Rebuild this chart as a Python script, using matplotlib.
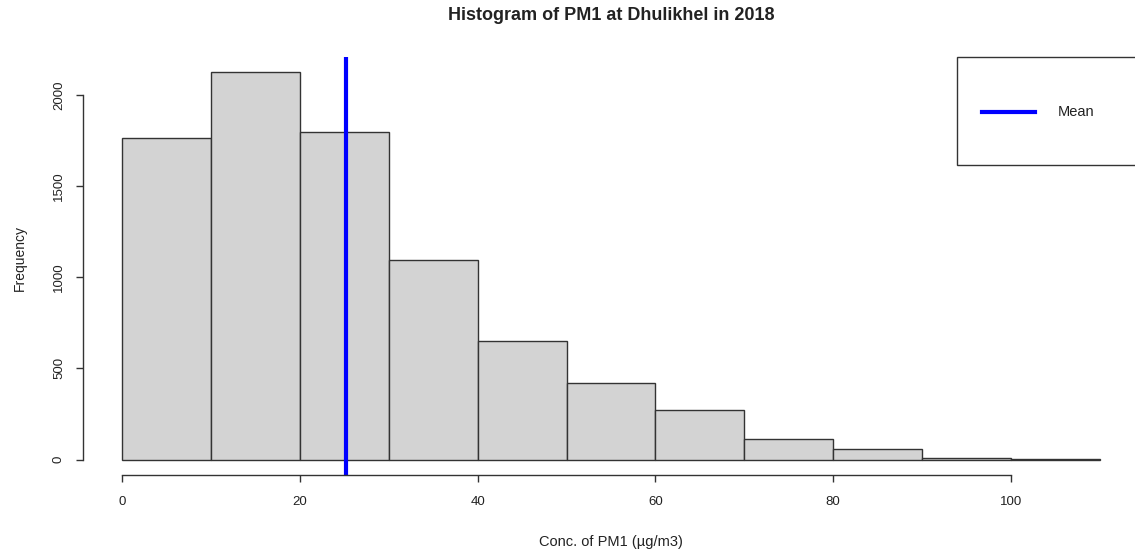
import matplotlib
matplotlib.use("Agg")
import matplotlib.pyplot as plt
from matplotlib.patches import Rectangle

# PM1 histogram, Dhulikhel 2018 (counts)
bin_edges = [0, 10, 20, 30, 40, 50, 60, 70, 80, 90, 100, 110]
counts = [1764, 2124, 1800, 1095, 652, 418, 272, 111, 55, 11, 2]
mean_pm1 = 25.2
x_ticks = [0, 20, 40, 60, 80, 100]
y_ticks = [0, 500, 1000, 1500, 2000]

plt.rcParams['font.family'] = ['Liberation Sans', 'DejaVu Sans']
txt = '#222222'
edge = '#333333'

fig = plt.figure(figsize=(11.35, 5.5), dpi=100)
ax = fig.add_axes([83 / 1135, 1 - 475 / 550, 1056 / 1135, 418 / 550])

ax.bar(bin_edges[:-1], counts, width=10, align='edge',
       color='#d3d3d3', edgecolor=edge, linewidth=1)
ax.axvline(mean_pm1, color='blue', linewidth=3)

ax.set_xlim(-4.4, 114.4)
ax.set_ylim(-85, 2209)

for s in ['top', 'right']:
    ax.spines[s].set_visible(False)
ax.spines['left'].set_bounds(0, 2000)
ax.spines['bottom'].set_bounds(0, 100)
for s in ['left', 'bottom']:
    ax.spines[s].set_color(edge)
    ax.spines[s].set_linewidth(1)

ax.set_xticks(x_ticks)
ax.set_yticks(y_ticks)
ax.tick_params(axis='both', length=5, width=1, color=edge,
               labelsize=9.5, labelcolor=txt)
ax.tick_params(axis='x', pad=10)
ax.tick_params(axis='y', pad=8)
for lab in ax.get_yticklabels():
    lab.set_rotation(90)
    lab.set_va('center')

# legend box, drawn like R's legend("topright", ...)
ax.add_patch(Rectangle((0.8277, 0.7416), 0.1723, 0.2584, transform=ax.transAxes,
                       facecolor='white', edgecolor=edge, linewidth=1,
                       clip_on=False, zorder=5))
ax.plot([0.8513, 0.9015], [0.8684, 0.8684], transform=ax.transAxes,
        color='blue', linewidth=3, clip_on=False, zorder=6)
ax.text(0.9233, 0.8684, 'Mean', transform=ax.transAxes, ha='left', va='center',
        fontsize=10.5, color=txt, zorder=6)

fig.text(611 / 1135, 1 - 15 / 550, 'Histogram of PM1 at Dhulikhel in 2018',
         ha='center', va='center', fontsize=13, fontweight='bold', color=txt)
fig.text(611 / 1135, 1 - 542 / 550, 'Conc. of PM1 (\u00b5g/m3)',
         ha='center', va='center', fontsize=10.5, color=txt)
fig.text(20 / 1135, 1 - 258 / 550, 'Frequency', rotation=90,
         ha='center', va='center', fontsize=10, color=txt)

fig.savefig('out.png', dpi=100)
